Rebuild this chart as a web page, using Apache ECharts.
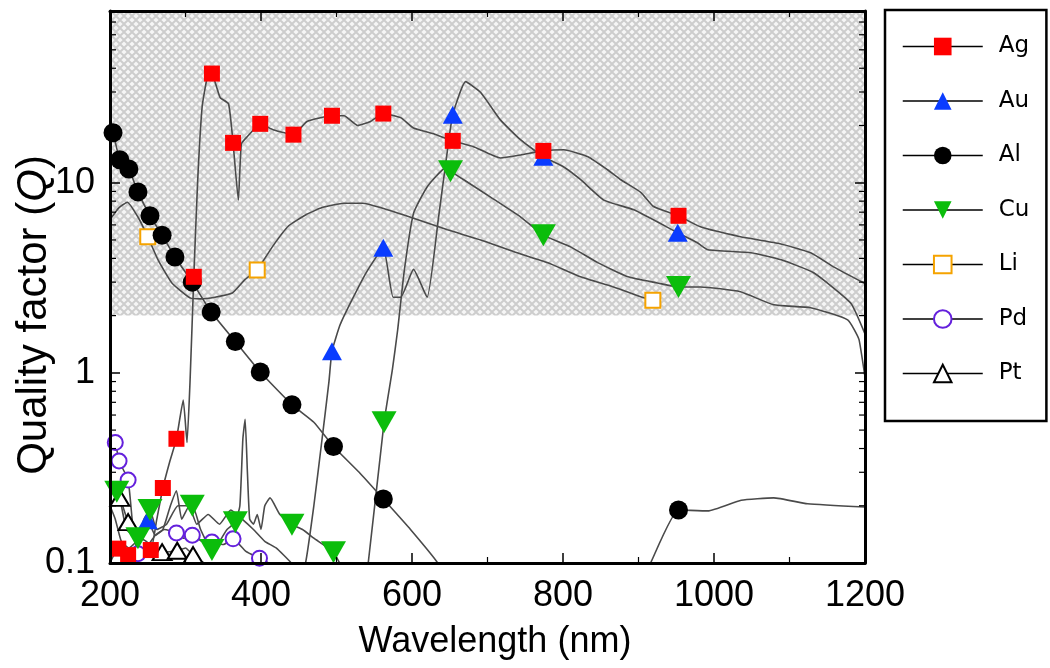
<!DOCTYPE html>
<html><head><meta charset="utf-8">
<script src="https://cdn.jsdelivr.net/npm/echarts@6/dist/echarts.min.js"></script>
<style>html,body{margin:0;padding:0;background:#fff}#c{width:1050px;height:668px}</style>
</head><body><div id="c"></div>
<script>
const metals = ['Ag', 'Au', 'Al', 'Cu', 'Li', 'Pd', 'Pt'];
const xRange = [200, 1200];
const yRange = [0.1, 80];
const hatchFrom = 2;
const yMinorTicks = [0.2,0.3,0.4,0.5,0.6,0.7,0.8,0.9,2,3,4,5,6,7,8,9,20,30,40,50,60,70];

// Ag
const agLine = [[200,0.10],[205,0.11],[217,0.105],[232,0.12],[240,0.115],[247,0.12],[262,0.17],[279,0.34],[297,0.72],[302,0.43],[306,0.9],[316,10],[322,25],[329,36],[340,33],[346,28],[357,26],[370,8.1],[374,16],[382,17.5],[416,19],[461,21],[510,22.5],[528,20],[545,21],[585,22],[602,19.4],[630,18],[681,15.5],[717,13.5],[744,14],[801,14.9],[833,13.7],[859,11.7],[876,10.4],[903,8.9],[920,7.5],[982,5.86],[1035,5.2],[1085,4.8],[1128,4.28],[1159,3.6],[1200,2.95]];
const agMarks = [[211,0.119],[224,0.11],[254,0.117],[270,0.248],[288,0.45],[311,3.2],[335,37.5],[363,16.2],[399,20.4],[443,17.9],[494,22.5],[562,23.1],[654,16.6],[774,14.7],[953,6.7]];
// Au
const auLine = [[200,0.2],[207,0.17],[215,0.13],[225,0.12],[235,0.13],[260,0.14],[270,0.15],[280,0.2],[288,0.24],[295,0.17],[305,0.2],[315,0.16],[330,0.18],[345,0.16],[360,0.19],[375,0.17],[390,0.15],[405,0.13],[420,0.12],[440,0.1],[450,0.085],[459,0.1],[470,0.2],[480,0.42],[490,0.9],[505,1.8],[520,2.4],[540,3.4],[575,2.5],[585,2.5],[602,3.5],[620,2.5],[635,6.5],[647,14.9],[671,34],[691,29.8],[717,21.4],[744,16.8],[801,12.1],[823,10.4],[854,8.1],[894,7.2],[978,4.83],[992,4.44],[1049,4.28],[1089,3.93],[1132,3.36],[1181,2.33],[1200,1.6]];
const auMarks = [[250,0.168],[494,1.3],[562,4.55],[654,22.8],[774,13.7],[952,5.45]];
// Al
const alLine = [[200,19.5],[470,0.55],[530,0.3],[598,0.15],[634,0.1],[660,0.06],[890,0.06],[916,0.1],[992,0.188],[1036,0.214],[1079,0.22],[1124,0.205],[1200,0.197]];
const alMarks = [[204,18.3],[213,13.2],[225,11.8],[237,8.95],[253,6.7],[269,5.3],[286,4.07],[309,3.0],[334,2.09],[366,1.46],[399,1.01],[441,0.68],[496,0.41],[562,0.217],[953,0.19]];
// Cu
const cuLine = [[200,0.25],[215,0.2],[222,0.15],[245,0.17],[262,0.15],[275,0.16],[290,0.2],[320,0.15],[345,0.13],[355,0.15],[372,0.2],[376,0.45],[379,0.57],[382,0.3],[385,0.17],[390,0.16],[395,0.18],[400,0.15],[405,0.2],[412,0.22],[425,0.18],[455,0.15],[470,0.135],[510,0.09],[525,0.07],[535,0.075],[542,0.1],[574,1.04],[581,1.68],[590,3.5],[602,6.9],[620,9.5],[645,12],[668,10.4],[704,8.4],[744,6.6],[810,4.6],[846,3.8],[886,3.2],[925,2.97],[982,2.83],[1035,2.67],[1079,2.28],[1128,2.2],[1177,1.9],[1192,1.5],[1200,0.95]];
const cuMarks = [[209,0.237],[237,0.135],[253,0.19],[309,0.2],[335,0.117],[366,0.164],[441,0.159],[496,0.114],[563,0.55],[651,11.5],[774,5.3],[953,2.83]];
// Li
const liLine = [[200,6.4],[212,7.4],[223,7.9],[237,6.6],[264,3.9],[282,2.97],[306,2.48],[320,2.45],[339,2.5],[362,2.63],[379,3.1],[415,4.6],[436,5.9],[460,6.8],[481,7.4],[510,7.8],[535,7.8],[558,7.4],[602,6.5],[647,5.65],[691,5.0],[735,4.33],[780,3.79],[823,3.2],[867,2.83],[907,2.48]];
const liMarks = [[250,5.2],[395,3.48],[919,2.41]];
// Pd
const pdLine = [[200,0.46],[230,0.16],[248,0.12],[260,0.14],[272,0.15],[298,0.135],[322,0.13],[350,0.125],[380,0.115],[420,0.095],[445,0.085],[470,0.07]];
const pdMarks = [[207,0.43],[212,0.344],[224,0.273],[237,0.112],[288,0.144],[309,0.14],[335,0.129],[363,0.134],[398,0.106]];
// Pt
const ptLine = [[200,0.26],[235,0.14],[248,0.13],[258,0.12],[300,0.12],[325,0.1],[340,0.095],[360,0.09]];
const ptMarks = [[213,0.22],[224,0.164],[269,0.114],[289,0.116],[310,0.11]];

const lines = {Ag: agLine, Au: auLine, Al: alLine, Cu: cuLine, Li: liLine, Pd: pdLine, Pt: ptLine};
const marks = {Ag: agMarks, Au: auMarks, Al: alMarks, Cu: cuMarks, Li: liMarks, Pd: pdMarks, Pt: ptMarks};

const styles = {
  Ag: {symbol: 'rect', size: 16, rot: 0, color: '#ff0000', bw: 0},
  Au: {symbol: 'triangle', size: [20, 18], rot: 0, color: '#0a3cff', bw: 0},
  Al: {symbol: 'circle', size: 19, rot: 0, color: '#000000', bw: 0},
  Cu: {symbol: 'triangle', size: [25, 22], rot: 180, color: '#0bbd0b', bw: 0},
  Li: {symbol: 'emptyRect', size: 15, rot: 0, color: '#f5a300', bw: 3},
  Pd: {symbol: 'emptyCircle', size: 15, rot: 0, color: '#6420dc', bw: 2.5},
  Pt: {symbol: 'emptyTriangle', size: [19, 16], rot: 0, color: '#000000', bw: 3}
};

function hatch() {
  const c = document.createElement('canvas');
  c.width = 8; c.height = 8;
  const g = c.getContext('2d');
  g.fillStyle = '#cdcdcd'; g.fillRect(0, 0, 8, 8);
  g.fillStyle = '#f6f6f6';
  const dia = (x, y, r) => { g.beginPath(); g.moveTo(x - r, y); g.lineTo(x, y - r); g.lineTo(x + r, y); g.lineTo(x, y + r); g.closePath(); g.fill(); };
  dia(0, 0, 2.6); dia(8, 0, 2.6); dia(0, 8, 2.6); dia(8, 8, 2.6); dia(4, 4, 2.6);
  return c;
}

const curveSeries = metals.map((m, i) => ({
  type: 'line', name: m + ' curve', xAxisIndex: 0, yAxisIndex: 0,
  data: lines[m].concat(marks[m]).sort((a, b) => a[0] - b[0]),
  symbol: 'none', smooth: 0.15, silent: true, z: 2,
  lineStyle: {color: '#4a4a4a', width: 1.6},
  markArea: i === 0 ? {silent: true, itemStyle: {color: {image: hatch(), repeat: 'repeat'}},
    data: [[{xAxis: xRange[0], yAxis: hatchFrom}, {xAxis: xRange[1], yAxis: yRange[1]}]]} : undefined
}));

const order = ['Pd', 'Pt', 'Li', 'Al', 'Au', 'Cu', 'Ag'];
const markSeries = order.map(m => ({
  type: 'line', name: m, xAxisIndex: 0, yAxisIndex: 0,
  data: marks[m], symbol: styles[m].symbol, symbolSize: styles[m].size, symbolRotate: styles[m].rot,
  showSymbol: true, silent: true, z: 3,
  lineStyle: {opacity: 0, width: 0.01},
  itemStyle: {color: styles[m].color, borderColor: styles[m].color, borderWidth: styles[m].bw, opacity: 1}
}));

const tickSeries = {
  type: 'custom', coordinateSystem: 'cartesian2d', xAxisIndex: 0, yAxisIndex: 0, silent: true, z: 11, clip: false,
  data: yMinorTicks.map(v => [xRange[0], v]),
  renderItem: (p, api) => {
    const v = api.value(1);
    const a = api.coord([xRange[0], v]);
    const b = api.coord([xRange[1], v]);
    return {type: 'group', children: [
      {type: 'line', shape: {x1: a[0], y1: a[1], x2: a[0] + 6, y2: a[1]}, style: {stroke: '#000', lineWidth: 1.2}},
      {type: 'line', shape: {x1: b[0] - 6, y1: b[1], x2: b[0], y2: b[1]}, style: {stroke: '#000', lineWidth: 1.2}}
    ]};
  }
};

const axisFont = '"Liberation Sans", Arial, sans-serif';
const xAxisBase = {
  type: 'value', min: xRange[0], max: xRange[1], interval: 200, z: 10,
  axisLine: {show: true, onZero: false, lineStyle: {color: '#000', width: 3}},
  axisTick: {show: true, inside: true, length: 10, lineStyle: {color: '#000', width: 1.5}},
  minorTick: {show: true, splitNumber: 2, length: 6, lineStyle: {color: '#000', width: 1.2}},
  splitLine: {show: false}, minorSplitLine: {show: false}
};
const yAxisBase = {
  type: 'log', logBase: 10, min: yRange[0], max: yRange[1], z: 10,
  axisLine: {show: true, onZero: false, lineStyle: {color: '#000', width: 3}},
  axisTick: {show: true, inside: true, length: 10, lineStyle: {color: '#000', width: 1.5}},
  splitLine: {show: false}
};

const chart = echarts.init(document.getElementById('c'), null, {renderer: 'canvas'});
chart.setOption({
  animation: false,
  backgroundColor: '#ffffff',
  grid: {left: 110, right: 185, top: 11, bottom: 105, containLabel: false, outerBoundsMode: 'none'},
  xAxis: [
    Object.assign({}, xAxisBase, {position: 'bottom',
      axisLabel: {show: true, fontSize: 36, fontFamily: axisFont, color: '#000', margin: 15, formatter: v => String(v)}}),
    Object.assign({}, xAxisBase, {position: 'top', axisLabel: {show: false}})
  ],
  yAxis: [
    Object.assign({}, yAxisBase, {position: 'left',
      axisLabel: {show: true, fontSize: 36, fontFamily: axisFont, color: '#000', margin: 15,
        formatter: v => { const l = Math.log10(v); return Math.abs(l - Math.round(l)) < 1e-6 ? String(Math.pow(10, Math.round(l))) : ''; }}}),
    Object.assign({}, yAxisBase, {position: 'right', axisLabel: {show: false}})
  ],
  legend: {
    data: metals, orient: 'vertical', left: 885, top: 10,
    padding: [25, 17, 36, 17], itemWidth: 80, itemHeight: 22, itemGap: 31.5,
    borderColor: '#000', borderWidth: 2.5, backgroundColor: '#fff', selectedMode: false,
    textStyle: {fontFamily: '"DejaVu Sans", sans-serif', fontSize: 23, color: '#000', padding: [0, 0, 0, 11]},
    lineStyle: {color: '#000', width: 1.5, opacity: 1, type: 'solid'}
  },
  graphic: [
    {type: 'text', x: 495, y: 642, style: {text: 'Wavelength (nm)', fontSize: 36, fontFamily: axisFont, fill: '#000', align: 'center', verticalAlign: 'middle'}},
    {type: 'text', x: 34, y: 315, rotation: Math.PI / 2, style: {
      text: '{a|Quality factor (}{b|Q}{a|)}', align: 'center', verticalAlign: 'middle',
      rich: {a: {fontSize: 42, fontFamily: axisFont, fill: '#000'}, b: {fontSize: 42, fontFamily: axisFont, fontStyle: 'italic', fill: '#000'}}
    }}
  ],
  series: curveSeries.concat(markSeries).concat([tickSeries])
});
</script>
</body></html>
